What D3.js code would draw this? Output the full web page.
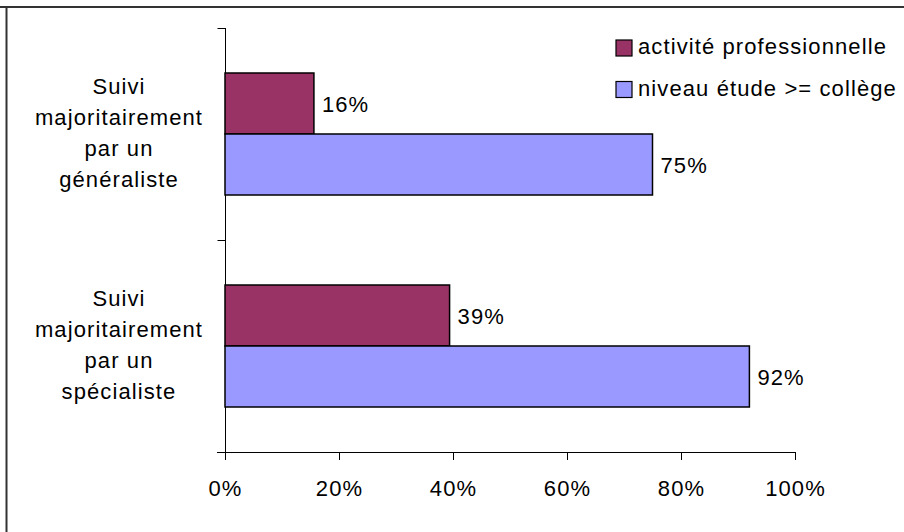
<!DOCTYPE html>
<html><head><meta charset="utf-8">
<script src="https://cdn.jsdelivr.net/npm/d3@7"></script>
<style>
body{margin:0;background:#fff;}
svg text{font-family:"Liberation Sans",Arial,sans-serif;font-size:22px;letter-spacing:1.1px;fill:#000;}
</style></head><body>
<svg id="c" width="904" height="532"></svg>
<script>
const categories = [["Suivi","majoritairement","par un","généraliste"],["Suivi","majoritairement","par un","spécialiste"]];
const seriesNames = ["activité professionnelle","niveau étude >= collège"];
const activite = [15.6, 39.4];
const niveau = [75.0, 92.0];
const ticks = [0,20,40,60,80,100];
const colors = ["#993366","#9999FF"];

const svg = d3.select("#c");
// frame (top and left only)
svg.append("line").attr("x1",0).attr("x2",904).attr("y1",7).attr("y2",7).attr("stroke","#333").attr("stroke-width",2);
svg.append("line").attr("x1",6.5).attr("x2",6.5).attr("y1",6).attr("y2",532).attr("stroke","#333").attr("stroke-width",2);

const x = d3.scaleLinear().domain([0,100]).range([225,795]);
const y = d3.scaleBand().domain([0,1]).range([28,452]);
const inner = d3.scaleBand().domain([0,1]).range([0,122]);
const series = [activite, niveau];

// axes
const xAxis = d3.axisBottom(x).tickValues(ticks).tickSize(8).tickFormat(d=>d+"%");
const gx = svg.append("g").attr("transform","translate(0,452)").call(xAxis);
gx.select(".domain").attr("stroke","#000").attr("d","M217,0.5H795");
gx.selectAll(".tick line").attr("stroke","#000");
gx.selectAll(".tick text").attr("y",28);
gx.attr("font-size",null).attr("font-family",null);

const gy = svg.append("g").attr("transform","translate(225.5,0)");
gy.append("line").attr("y1",28).attr("y2",452).attr("stroke","#000");
y.domain().forEach(v=>gy.append("line").attr("x1",-8).attr("x2",0).attr("y1",y(v)+0.5).attr("y2",y(v)+0.5).attr("stroke","#000"));

// bars
series.forEach((vals,si)=>{
  vals.forEach((v,ci)=>{
    const y0 = y(ci) + (y.bandwidth()-122)/2 + inner(si);
    svg.append("rect").attr("x",x(0)).attr("y",y0).attr("width",x(v)-x(0)).attr("height",inner.bandwidth())
      .attr("fill",colors[si]).attr("stroke","#000").attr("stroke-width",1.5);
    svg.append("text").attr("x",x(v)+8).attr("y",y0+inner.bandwidth()/2+8).text(Math.round(v)+"%");
  });
});

// category labels
categories.forEach((lines,ci)=>{
  const c = y(ci)+y.bandwidth()/2;
  lines.forEach((l,i)=>{
    svg.append("text").attr("x",119).attr("y",c+6.5+(i-1.5)*31).attr("text-anchor","middle").text(l);
  });
});

// legend
seriesNames.forEach((n,i)=>{
  const top = 40 + i*41.5;
  svg.append("rect").attr("x",616).attr("y",top).attr("width",16).attr("height",16)
    .attr("fill",colors[i]).attr("stroke","#000").attr("stroke-width",1.2);
  svg.append("text").attr("x",638).attr("y",top+14).text(n);
});
</script></body></html>
